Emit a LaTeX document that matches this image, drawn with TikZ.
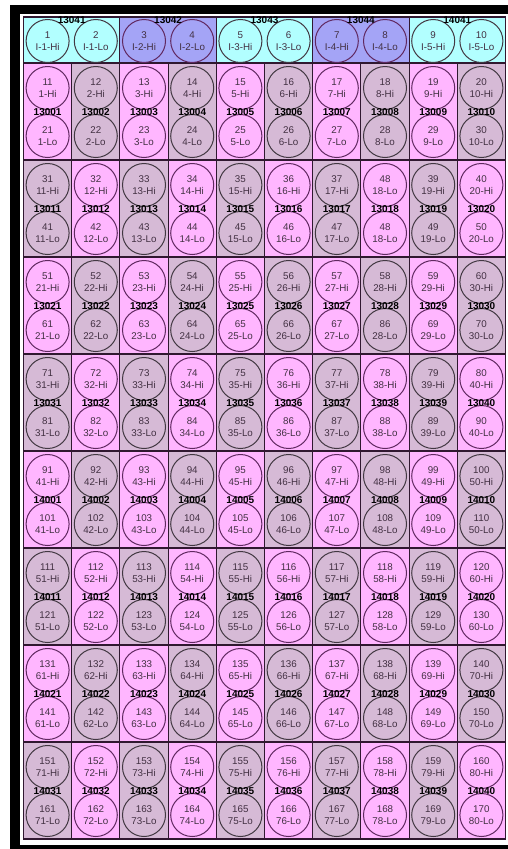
\documentclass[tikz,border=0pt]{standalone}
\usepackage{fontspec}
\setmainfont{Liberation Sans}
\usepackage{tikz}
\usetikzlibrary{positioning}
\usepackage{xcolor}
\definecolor{pinkcell}{RGB}{255,182,255}
\definecolor{mauvecell}{RGB}{214,186,214}
\definecolor{cyanhead}{RGB}{178,255,255}
\definecolor{bluehead}{RGB}{164,164,246}
\definecolor{gridline}{RGB}{48,24,48}
\definecolor{ringpink}{RGB}{96,40,96}
\definecolor{ringgray}{RGB}{66,56,66}
\definecolor{porttext}{RGB}{66,48,66}
\tikzset{
  port/.style={circle,draw=ringgray,line width=1pt,minimum size=43pt,inner sep=0pt,align=center,text=porttext,font=\fontsize{9.8}{11.5}\selectfont},
  chan/.style={inner sep=0pt,text=black,font=\bfseries\fontsize{10}{12}\selectfont},
}

\begin{document}
\begin{tikzpicture}[x=1pt,y=-1pt]
\useasboundingbox (0,0) rectangle (508,849);
\fill[black] (10,5) rectangle (508,14);
\fill[black] (10,5) rectangle (20,849);
\fill[black] (10,845) rectangle (508,849);
% header row
\foreach \g/\lab in {1/13041,2/13042,3/13043,4/13044,5/14041} {
  \pgfmathtruncatemacro{\odd}{mod(\g,2)}
  \ifnum\odd=1 \def\hc{cyanhead}\else\def\hc{bluehead}\fi
  \fill[\hc] ({23.5+96.4*(\g-1)},17) rectangle ({23.5+96.4*\g},63);
}
% cells
\foreach \r in {1,...,8} {
  \foreach \c in {1,...,10} {
    \pgfmathtruncatemacro{\pty}{mod(\r+\c,2)}
    \ifnum\pty=0 \def\cc{pinkcell}\else\def\cc{mauvecell}\fi
    \fill[\cc] ({23.5+48.2*(\c-1)},{63+97*(\r-1)}) rectangle ({23.5+48.2*\c},{63+97*\r});
  }
}
% grid
\foreach \g in {1,...,4}
  \draw[gridline,line width=1pt] ({23.5+96.4*\g},17) -- ({23.5+96.4*\g},63);
\foreach \c in {1,...,9}
  \draw[gridline,line width=1pt] ({23.5+48.2*\c},63) -- ({23.5+48.2*\c},839);
\foreach \r in {0,...,7}
  \draw[gridline,line width=1.4pt] (23.5,{63+97*\r}) -- (505.5,{63+97*\r});
\draw[gridline,line width=1.2pt] (23.5,17) rectangle (505.5,839);
% header ports
\foreach \g/\lab in {1/13041,2/13042,3/13043,4/13044,5/14041} {
  \pgfmathtruncatemacro{\na}{2*\g-1}
  \pgfmathtruncatemacro{\nb}{2*\g}
  \pgfmathtruncatemacro{\odd}{mod(\g,2)}
  \ifnum\odd=1 \def\rc{ringgray}\else\def\rc{ringpink}\fi
  \node[port,draw=\rc] (in\na) at ({23.5+48.2*(\na-0.5)},41) {\na\\I-\g-Hi};
  \node[port,draw=\rc] (in\nb) at ({23.5+48.2*(\nb-0.5)},41) {\nb\\I-\g-Lo};
  \node[chan] (grp\g) at ({23.5+96.4*(\g-0.5)},20.5) {\lab};
}
% ports per cell
\foreach \r in {1,...,8} {
  \foreach \c in {1,...,10} {
    \pgfmathtruncatemacro{\pty}{mod(\r+\c,2)}
    \ifnum\pty=0 \def\rc{ringpink}\else\def\rc{ringgray}\fi
    \pgfmathtruncatemacro{\hn}{10+20*(\r-1)+\c}
    \pgfmathtruncatemacro{\ln}{\hn+10}
    \pgfmathtruncatemacro{\k}{10*(\r-1)+\c}
    \pgfmathtruncatemacro{\ch}{\r<5 ? 13000+\k : 13960+\k}
    \def\hitop{\hn}\def\hilab{\k-Hi}\def\lotop{\ln}
    \ifnum\hn=38 \def\hitop{48}\def\hilab{18-Lo}\fi
    \ifnum\ln=68 \def\lotop{86}\fi
    \node[port,draw=\rc] (hi\hn) at ({23.5+48.2*(\c-0.5)},{63+97*(\r-1)+25}) {\hitop\\\hilab};
    \node[port,draw=\rc] (lo\ln) at ({23.5+48.2*(\c-0.5)},{63+97*(\r-1)+73}) {\lotop\\\k-Lo};
    \node[chan] (ch\ch) at ({23.5+48.2*(\c-0.5)},{63+97*(\r-1)+49}) {\ch};
  }
}
\end{tikzpicture}
\end{document}
